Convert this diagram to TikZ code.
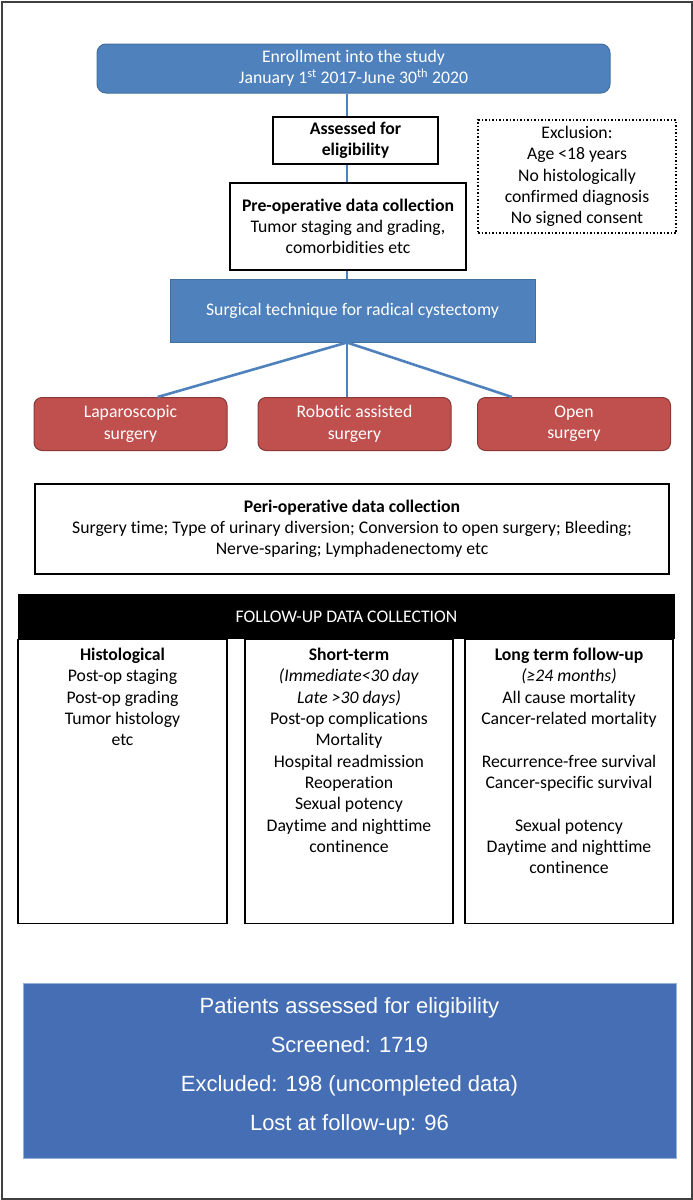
\documentclass[tikz,border=0pt]{standalone}
\usepackage{fontspec}
\setmainfont{Carlito}[Ligatures=NoCommon]
\newfontfamily\arialfont{Liberation Sans}
\usetikzlibrary{positioning, calc}
\definecolor{topblue}{HTML}{4F81BD}
\definecolor{topblueline}{HTML}{41709F}
\definecolor{surgred}{HTML}{C0504D}
\definecolor{surgredline}{HTML}{8C3836}
\definecolor{sumblue}{HTML}{456EB4}
\definecolor{framegray}{HTML}{404040}

\begin{document}
\begin{tikzpicture}[x=1pt, y=-1pt, font=\fontsize{17.7}{21.3}\selectfont,
  bluebox/.style={draw=topblueline, fill=topblue, text=white, align=center, inner sep=0pt, line width=1pt},
  redbox/.style={draw=surgredline, fill=surgred, text=white, rounded corners=8pt, align=center, minimum width=193pt, minimum height=53pt, inner sep=0pt, line width=1pt},
  datbox/.style={draw, line width=1.6pt, fill=white, align=center, inner sep=0pt},
  colbox/.style={draw, line width=1.4pt, anchor=north, inner sep=0pt, minimum height=284pt},
  coltext/.style={align=center, inner sep=0pt},
  link/.style={draw=topblue, line width=1.4pt},
  branch/.style={draw=topblue, line width=2.6pt}]
  \useasboundingbox (0,0) rectangle (693,1200);
  \draw[framegray, line width=2pt] (1.5,1.5) rectangle (691.5,1198.5);
  \coordinate (spine) at (347,0);

  \node[bluebox, rounded corners=9pt, minimum width=513pt, minimum height=49pt] (enroll) at (353.5,68.5) {Enrollment into the study\\January 1\textsuperscript{st} 2017-June 30\textsuperscript{th} 2020};
  \node[datbox, minimum width=165pt, minimum height=47pt] (assess) at (355.5,140.5) {\textbf{Assessed for}\\\textbf{eligibility}};
  \node[draw, dotted, line width=1.5pt, align=center, inner sep=0pt, minimum width=198pt, minimum height=113pt] (excl) at (577,176.5) {Exclusion:\\Age <18 years\\No histologically\\confirmed diagnosis\\No signed consent};
  \node[datbox, minimum width=236pt, minimum height=87pt] (preop) at (348,226.5) {\textbf{Pre-operative data collection}\\Tumor staging and grading,\\comorbidities etc};
  \node[bluebox, minimum width=365pt, minimum height=63pt] (tech) at (352.5,310.5) {Surgical technique for radical cystectomy};

  \node[redbox] (lap) at (130.5,424) {Laparoscopic\\surgery};
  \node[redbox] (robot) at (354.5,424) {Robotic assisted\\surgery};
  \node[redbox] (open) at (574,424) {Open\\surgery};

  \draw[link] (enroll.south -| spine) -- (assess.north -| spine);
  \draw[link] (assess.south -| spine) -- (preop.north -| spine);
  \draw[link] (preop.south -| spine) -- (tech.north -| spine);
  \draw[branch] (tech.south -| spine) -- ($(lap.north west)!0.64!(lap.north east)$);
  \draw[branch] (tech.south -| spine) -- (robot.north -| spine);
  \draw[branch] (tech.south -| spine) -- ($(open.north west)!0.18!(open.north east)$);

  \node[datbox, minimum width=634pt, minimum height=90pt] (peri) at (352,529) {\textbf{Peri-operative data collection}\\Surgery time; Type of urinary diversion; Conversion to open surgery; Bleeding;\\Nerve-sparing; Lymphadenectomy etc};

  \node[fill=black, text=white, inner sep=0pt, minimum width=657pt, minimum height=45pt] (fuhead) at (346.5,616.5) {FOLLOW-UP DATA COLLECTION};
  \node[colbox, minimum width=209pt] (hist) at (122.5,639) {};
  \node[colbox, minimum width=208pt] (short) at (349,639) {};
  \node[colbox, minimum width=208pt] (long) at (569,639) {};
  \node[coltext, below=9pt of hist.north] (histtxt) {\textbf{Histological}\\Post-op staging\\Post-op grading\\Tumor histology\\etc};
  \node[coltext, below=9pt of short.north] (shorttxt) {\textbf{Short-term}\\\textit{(Immediate<30 day}\\\textit{Late >30 days)}\\Post-op complications\\Mortality\\Hospital readmission\\Reoperation\\Sexual potency\\Daytime and nighttime\\continence};
  \node[coltext, below=9pt of long.north] (longtxt) {\textbf{Long term follow-up}\\\textit{(≥24 months)}\\All cause mortality\\Cancer-related mortality\\[21.3pt]Recurrence-free survival\\Cancer-specific survival\\[21.3pt]Sexual potency\\Daytime and nighttime\\continence};

  \node[draw=topblue!60, fill=sumblue, text=white, align=center, inner sep=0pt, minimum width=653pt, minimum height=175pt, font=\arialfont\fontsize{22}{39}\selectfont] (summary) at (349.5,1070.5) {};
  \node[text=white, align=center, inner sep=0pt, font=\arialfont\fontsize{22}{39}\selectfont] (sumtxt) at (349.5,1066.5) {Patients assessed for eligibility\\Screened: 1719\\Excluded: 198 (uncompleted data)\\Lost at follow-up: 96};
\end{tikzpicture}
\end{document}
